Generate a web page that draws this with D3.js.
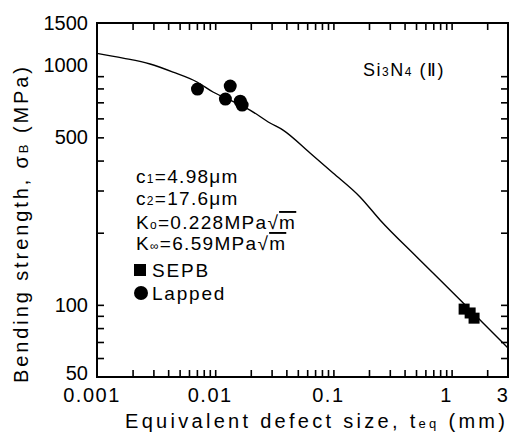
<!DOCTYPE html>
<html>
<head>
<meta charset="utf-8">
<script src="https://cdn.jsdelivr.net/npm/d3@7"></script>
<style>
  body { margin: 0; background: #fff; }
  text { font-family: "Liberation Sans", Arial, sans-serif; fill: #000; }
</style>
</head>
<body>
<div id="container"></div>
<script>
// data
let curveX = [0.001, 0.00166, 0.00281, 0.0044, 0.00702, 0.00958, 0.01334, 0.01969, 0.0291, 0.0375, 0.0634, 0.0993, 0.168, 0.248, 0.51, 1.248, 1.845, 3];
let curveY = [1120, 1071, 1012, 936, 851, 773, 715, 650, 574, 536, 430, 355, 282, 226, 158, 102, 84, 66];
let lappedX = [0.00708, 0.0134, 0.0122, 0.0163, 0.0169];
let lappedY = [795, 818, 722, 708, 682];
let sepbX = [1.276, 1.435, 1.549];
let sepbY = [96, 92.5, 88];
let xLabels = [0.001, 0.01, 0.1, 1, 3];
let yLabels = [50, 100, 500, 1000, 1500];

let w = 517;
let h = 434;
let padLeft = 97, padRight = 508, padTop = 23, padBottom = 377;

let viz = d3.select("#container")
  .append("svg")
    .attr("width", w)
    .attr("height", h);

let xScale = d3.scaleLog().domain([0.001, 3]).range([padLeft, padRight]);
let yScale = d3.scaleLog().domain([50, 1500]).range([padBottom, padTop]);

// minor ticks 1..9 per decade
let xTicks = [];
[0.001, 0.01, 0.1, 1].forEach(function(d){
  for (let k = 1; k <= 9; k++) {
    let v = +(d * k).toPrecision(3);
    if (v > 0.001 && v < 3) xTicks.push(v);
  }
});
let yTicks = [];
[10, 100].forEach(function(d){
  for (let k = 1; k <= 9; k++) {
    let v = d * k;
    if (v > 50 && v <= 1000) yTicks.push(v);
  }
});

let tick = 7;
function styleAxis(g){
  g.select(".domain").remove();
  g.selectAll(".tick line").attr("stroke", "#000").attr("stroke-width", 1.6);
}

viz.append("g").attr("transform", "translate(0," + padBottom + ")")
  .call(d3.axisBottom(xScale).tickValues(xTicks).tickSize(-tick).tickFormat(""))
  .call(styleAxis);
viz.append("g").attr("transform", "translate(0," + padTop + ")")
  .call(d3.axisTop(xScale).tickValues(xTicks).tickSize(-tick).tickFormat(""))
  .call(styleAxis);
viz.append("g").attr("transform", "translate(" + padLeft + ",0)")
  .call(d3.axisLeft(yScale).tickValues(yTicks).tickSize(-tick).tickFormat(""))
  .call(styleAxis);
viz.append("g").attr("transform", "translate(" + padRight + ",0)")
  .call(d3.axisRight(yScale).tickValues(yTicks).tickSize(-tick).tickFormat(""))
  .call(styleAxis);

// frame
viz.append("rect")
  .attr("x", padLeft).attr("y", padTop)
  .attr("width", padRight - padLeft).attr("height", padBottom - padTop)
  .attr("fill", "none").attr("stroke", "#000").attr("stroke-width", 2);

// tick labels
viz.append("g").selectAll("text").data(xLabels).enter().append("text")
  .attr("x", d => xScale(d) - 5)
  .attr("y", padBottom + 25)
  .attr("text-anchor", "middle")
  .attr("font-size", 20)
  .attr("letter-spacing", 1.5)
  .text(d => d3.format("")(d));

viz.append("g").selectAll("text").data(yLabels).enter().append("text")
  .attr("x", padLeft - 9)
  .attr("y", d => Math.min(yScale(d) + 7, padBottom + 3))
  .attr("text-anchor", "end")
  .attr("font-size", 20)
  .text(d => d);

// axis titles
let xt = viz.append("text")
  .attr("x", 315).attr("y", 428)
  .attr("text-anchor", "middle")
  .attr("font-size", 20)
  .attr("textLength", 380).attr("lengthAdjust", "spacing");
xt.append("tspan").text("Equivalent defect size, t");
xt.append("tspan").attr("font-size", 13).text("eq");
xt.append("tspan").text(" (mm)");

let yt = viz.append("text")
  .attr("transform", "translate(28,225) rotate(-90)")
  .attr("text-anchor", "middle")
  .attr("font-size", 20)
  .attr("textLength", 316).attr("lengthAdjust", "spacing");
yt.append("tspan").text("Bending strength, σ");
yt.append("tspan").attr("font-size", 13).text("B");
yt.append("tspan").text(" (MPa)");

// curve
let lineMaker = d3.line()
  .x(d => xScale(d[0]))
  .y(d => yScale(d[1]))
  .curve(d3.curveMonotoneX);
viz.append("path")
  .datum(d3.zip(curveX, curveY))
  .attr("d", lineMaker)
  .attr("fill", "none")
  .attr("stroke", "#000")
  .attr("stroke-width", 1.4);

// data points
viz.append("g").selectAll("circle").data(d3.zip(lappedX, lappedY)).enter().append("circle")
  .attr("cx", d => xScale(d[0]))
  .attr("cy", d => yScale(d[1]))
  .attr("r", 6.5)
  .attr("fill", "#000");

let sq = 11;
viz.append("g").selectAll("rect").data(d3.zip(sepbX, sepbY)).enter().append("rect")
  .attr("x", d => xScale(d[0]) - sq / 2)
  .attr("y", d => yScale(d[1]) - sq / 2)
  .attr("width", sq).attr("height", sq)
  .attr("fill", "#000");

// label in the corner
let si = viz.append("text").attr("x", 363).attr("y", 76).attr("font-size", 18).attr("letter-spacing", 1.5);
si.append("tspan").text("Si");
si.append("tspan").attr("font-size", 12).text("3");
si.append("tspan").text("N");
si.append("tspan").attr("font-size", 12).text("4");
si.append("tspan").text(" (Ⅱ)");

// parameter notes: [text, small?]
let notes = [
  [["c", 0], ["1", 1], ["=4.98μm", 0]],
  [["c", 0], ["2", 1], ["=17.6μm", 0]],
  [["K", 0], ["o", 1], ["=0.228MPa√", 0], ["m", 2]],
  [["K", 0], ["∞", 1], ["=6.59MPa√", 0], ["m", 2]]
];
let noteY = [183, 205, 229, 250];
notes.forEach(function(line, i){
  let t = viz.append("text").attr("x", 136).attr("y", noteY[i]).attr("font-size", 19).attr("letter-spacing", 1.3);
  line.forEach(function(p){
    let s = t.append("tspan").text(p[0]);
    if (p[1] == 1) s.attr("font-size", 12);
    if (p[1] == 2) s.style("text-decoration", "overline");
  });
});

// legend
viz.append("rect").attr("x", 134).attr("y", 264).attr("width", 12).attr("height", 12).attr("fill", "#000");
viz.append("text").attr("x", 152).attr("y", 277).attr("font-size", 19).attr("letter-spacing", 1.8).text("SEPB");
viz.append("circle").attr("cx", 141).attr("cy", 293).attr("r", 7).attr("fill", "#000");
viz.append("text").attr("x", 152).attr("y", 300).attr("font-size", 19).attr("letter-spacing", 1.8).text("Lapped");
</script>
</body>
</html>
